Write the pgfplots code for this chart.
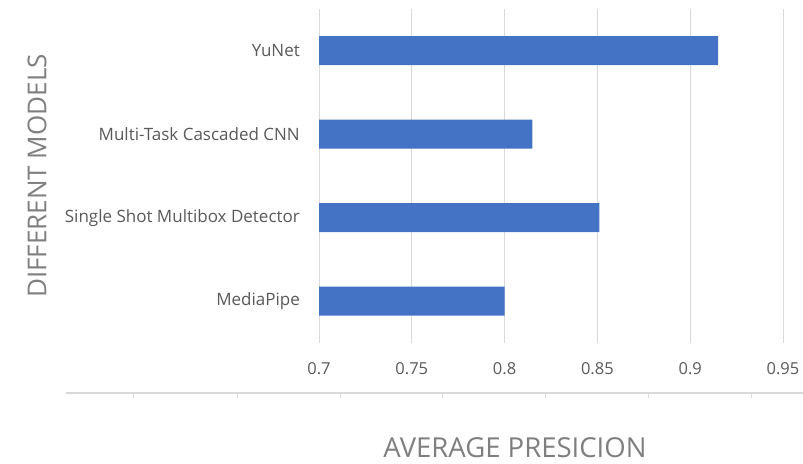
\documentclass[border=0pt]{standalone}
\usepackage{pgfplots}
\pgfplotsset{compat=1.18}
\usepackage{fontspec}
\setmainfont{Open Sans}
\definecolor{barblue}{HTML}{4472C4}
\definecolor{gridgray}{HTML}{D9D9D9}
\definecolor{labelgray}{HTML}{595959}
\definecolor{titlegray}{HTML}{7F7F7F}
\begin{document}
\begin{tikzpicture}[x=1bp,y=1bp]
  \path[use as bounding box] (0,0) rectangle (803,464);
  \begin{axis}[
    at={(319bp,121bp)}, anchor=south west,
    scale only axis,
    width=464bp, height=334bp,
    xbar, bar width=29bp,
    xmin=0.7, xmax=0.95,
    ymin=-0.5, ymax=3.5,
    xtick={0.7,0.75,0.8,0.85,0.9,0.95},
    xticklabels={0.7,0.75,0.8,0.85,0.9,0.95},
    ytick={0,1,2,3},
    yticklabels={MediaPipe,Single Shot Multibox Detector,Multi-Task Cascaded CNN,YuNet},
    xmajorgrids, major grid style={gridgray, line width=1bp},
    axis line style={draw=none},
    major tick length=0pt,
    /pgf/number format/assume math mode=true,
    ticklabel style={text=labelgray, inner sep=0pt},
    xticklabel style={font=\fontsize{16.5bp}{19bp}\selectfont, anchor=north, yshift=-19bp},
    yticklabel style={font=\fontsize{17bp}{20bp}\selectfont, anchor=east, xshift=-19bp},
    xlabel={AVERAGE PRESICION},
    ylabel={DIFFERENT MODELS},
    label style={text=titlegray},
    xlabel style={font=\fontsize{27.5bp}{32bp}\selectfont, at={(axis description cs:0.4224,-0.314)}, anchor=center},
    ylabel style={font=\fontsize{26bp}{30bp}\selectfont, at={(axis description cs:-0.6078,0.5)}, anchor=center, rotate=0},
  ]
    \addplot[fill=barblue, draw=none]
      coordinates {(0.800,0) (0.851,1) (0.815,2) (0.915,3)};
  \end{axis}
  % extra horizontal rule with its tick marks below the value labels
  \draw[gridgray, line width=1.2bp] (66,71) -- (803,71);
  \foreach \t in {133,237,340,442,545,648,751}
    \draw[gridgray, line width=1bp] (\t,71) -- (\t,66);
\end{tikzpicture}
\end{document}
